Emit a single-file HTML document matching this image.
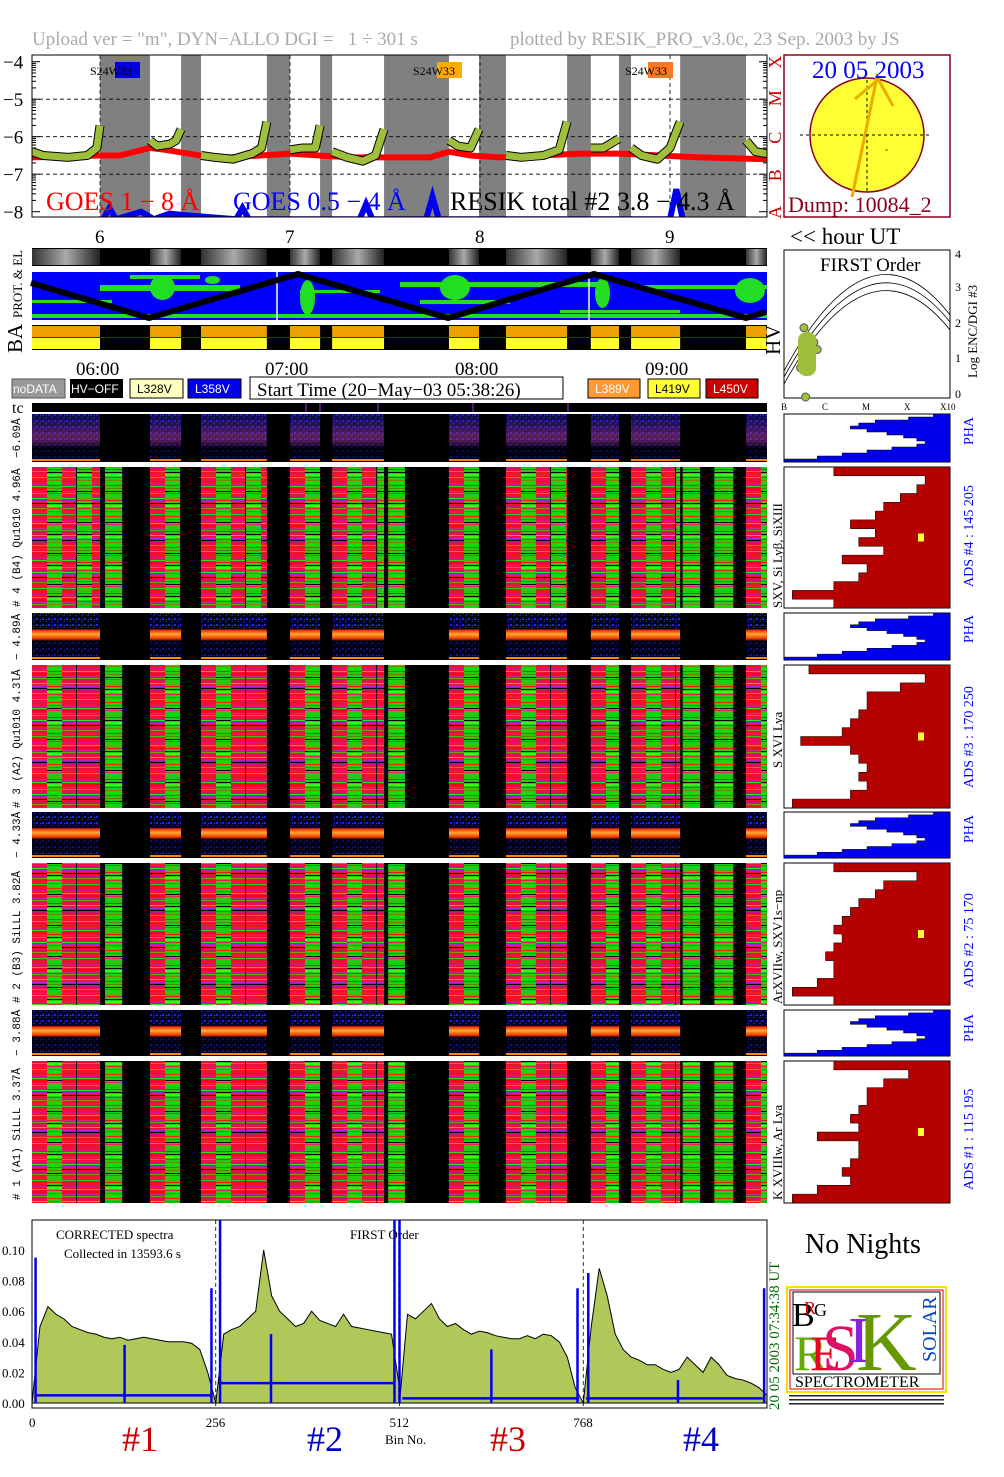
<!DOCTYPE html>
<html><head><meta charset="utf-8"><style>
html,body{margin:0;padding:0;background:#fff;}
svg{display:block;font-family:"Liberation Serif",serif;}
</style></head><body>
<svg id="s" width="1004" height="1477" viewBox="0 0 1004 1477" xmlns="http://www.w3.org/2000/svg">
<defs>
  <pattern id="pRed" patternUnits="userSpaceOnUse" width="15" height="37">
    <rect width="15" height="37" fill="#ee1133"/>
    <rect y="2" width="15" height="2" fill="#dd1188"/><rect y="5" width="15" height="1" fill="#33dd11"/>
    <rect y="7" width="15" height="2" fill="#ff0022"/><rect y="10" width="15" height="1" fill="#cc2299"/>
    <rect y="12" width="15" height="1" fill="#66aa00"/><rect y="14" width="15" height="2" fill="#dd1166"/>
    <rect y="17" width="15" height="1" fill="#22ee22"/><rect y="19" width="15" height="2" fill="#aa22cc"/>
    <rect y="22" width="15" height="1" fill="#000"/><rect y="24" width="15" height="2" fill="#cc1177"/>
    <rect y="27" width="15" height="1" fill="#889900"/><rect y="30" width="15" height="2" fill="#ff1144"/>
    <rect y="33" width="15" height="1" fill="#33cc11"/>
  </pattern>
  <pattern id="pGreen" patternUnits="userSpaceOnUse" width="15" height="31">
    <rect width="15" height="31" fill="#22cc11"/>
    <rect y="2" width="15" height="1" fill="#55aa00"/><rect y="4" width="15" height="1" fill="#ee1122"/>
    <rect y="7" width="15" height="1" fill="#000"/><rect y="9" width="15" height="2" fill="#33ff11"/>
    <rect y="12" width="15" height="1" fill="#dd2255"/><rect y="15" width="15" height="1" fill="#778800"/>
    <rect y="17" width="15" height="2" fill="#11dd00"/><rect y="20" width="15" height="1" fill="#ff2200"/>
    <rect y="23" width="15" height="1" fill="#558800"/><rect y="26" width="15" height="1" fill="#000"/>
    <rect y="28" width="15" height="1" fill="#ee2266"/>
  </pattern>
  <pattern id="pDots" patternUnits="userSpaceOnUse" width="6" height="6">
    <rect width="6" height="6" fill="#000022"/>
    <rect x="0" y="0" width="2" height="2" fill="#2222ee"/><rect x="3" y="3" width="2" height="1" fill="#1a1acc"/>
    <rect x="4" y="1" width="1" height="1" fill="#4444ff"/>
  </pattern>
  <linearGradient id="gBand4" x1="0" y1="0" x2="0" y2="1">
    <stop offset="0" stop-color="#2020aa" stop-opacity="0.3"/><stop offset="0.45" stop-color="#993377" stop-opacity="0.6"/>
    <stop offset="0.55" stop-color="#993377" stop-opacity="0.5"/><stop offset="0.7" stop-color="#000" stop-opacity="0.7"/>
    <stop offset="1" stop-color="#000" stop-opacity="0.5"/>
  </linearGradient>
  <linearGradient id="gBandHot" x1="0" y1="0" x2="0" y2="1">
    <stop offset="0" stop-color="#000" stop-opacity="0"/><stop offset="0.33" stop-color="#000" stop-opacity="0"/>
    <stop offset="0.36" stop-color="#ee2200"/><stop offset="0.45" stop-color="#ffaa33"/>
    <stop offset="0.55" stop-color="#ee3300"/><stop offset="0.6" stop-color="#000" stop-opacity="0.6"/>
    <stop offset="1" stop-color="#000" stop-opacity="0.3"/>
  </linearGradient>
</defs>

<!-- title -->
<text x="32" y="45" font-size="19" fill="#aaaaaa" xml:space="preserve">Upload ver = "m", DYN−ALLO DGI =   1 ÷ 301 s</text>
<text x="510" y="45" font-size="19" fill="#aaaaaa">plotted by RESIK_PRO_v3.0c, 23 Sep. 2003 by JS</text>

<g id="goes"></g>
<g id="sun">
  <rect x="784" y="55" width="166" height="162" fill="#fff" stroke="#8b0020" stroke-width="1.5"/>
  <circle cx="867" cy="135" r="57" fill="#ffff33" stroke="#8b0020" stroke-width="1.5"/>
  <line x1="800" y1="135" x2="932" y2="135" stroke="#000" stroke-dasharray="3,3"/>
  <line x1="867" y1="80" x2="867" y2="192" stroke="#000" stroke-dasharray="3,3"/>
  <polyline points="852,197 877,77 893,106" fill="none" stroke="#eeaa00" stroke-width="3"/>
  <line x1="855" y1="99" x2="880" y2="78" stroke="#eeaa00" stroke-width="3"/>
  <rect x="885" y="149" width="3" height="2" fill="#ee9900"/>
  <text x="812" y="78" font-size="25" fill="#0000ff">20 05 2003</text>
  <text x="788" y="212" font-size="22" fill="#8b0020">Dump: 10084_2</text>
</g>

<text x="790" y="244" font-size="23" fill="#000">&lt;&lt; hour UT</text>
<g id="hours"></g>
<g id="strip"></g>
<g id="map"></g>
<g id="ba"></g>
<text transform="translate(22,318) rotate(-90)" font-size="13">PROT. &amp; EL</text>
<text transform="translate(22,353) rotate(-90)" font-size="21">BA</text>
<text transform="translate(780,355) rotate(-90)" font-size="21">HV</text>

<!-- first order plot -->
<g id="first">
  <rect x="784" y="250" width="166" height="148" fill="#fff" stroke="#000"/>
  <text x="820" y="271" font-size="19">FIRST Order</text>
  <text x="955" y="258" font-size="12">4</text><text x="955" y="291" font-size="12">3</text>
  <text x="955" y="327" font-size="12">2</text><text x="955" y="362" font-size="12">1</text><text x="955" y="398" font-size="12">0</text>
  <text transform="translate(977,378) rotate(-90)" font-size="13">Log ENC/DGI #3</text>
  <text x="781" y="410" font-size="9">B</text><text x="822" y="410" font-size="9">C</text><text x="862" y="410" font-size="9">M</text>
  <text x="904" y="410" font-size="9">X</text><text x="940" y="410" font-size="9">X10</text>
</g>

<!-- time labels and legend -->
<g font-size="19">
  <text x="76" y="375">06:00</text><text x="265" y="375">07:00</text><text x="455" y="375">08:00</text><text x="645" y="375">09:00</text>
</g>
<g font-family="Liberation Sans, sans-serif" font-size="12">
  <rect x="12" y="379" width="53" height="19" fill="#999" stroke="#555"/><text x="13" y="393" fill="#fff">noDATA</text>
  <rect x="70" y="379" width="53" height="19" fill="#000"/><text x="71" y="393" fill="#fff">HV−OFF</text>
  <rect x="130" y="379" width="53" height="19" fill="#ffffc0" stroke="#000"/><text x="137" y="393" fill="#000">L328V</text>
  <rect x="188" y="379" width="53" height="19" fill="#0000ee" stroke="#000"/><text x="195" y="393" fill="#fff">L358V</text>
  <rect x="588" y="379" width="52" height="19" fill="#ff9933" stroke="#000"/><text x="595" y="393" fill="#fff">L389V</text>
  <rect x="648" y="379" width="52" height="19" fill="#ffff33" stroke="#000"/><text x="655" y="393" fill="#000">L419V</text>
  <rect x="706" y="379" width="52" height="19" fill="#cc0000" stroke="#000"/><text x="713" y="393" fill="#fff">L450V</text>
</g>
<rect x="250" y="377" width="313" height="22" fill="#fff" stroke="#000"/>
<text x="257" y="396" font-size="19">Start Time (20−May−03 05:38:26)</text>
<text x="12" y="413" font-size="16">tc</text>
<g id="tc"></g>

<g id="det"></g>
<g id="hist"></g>

<g font-size="11" font-family="Liberation Mono, monospace">
  <text transform="translate(20,458) rotate(-90)">−6.09Å</text>
  <text transform="translate(20,607) rotate(-90)"># 4 (B4) Qu1010 4.96Å</text>
  <text transform="translate(20,660) rotate(-90)">− 4.89Å</text>
  <text transform="translate(20,808) rotate(-90)"># 3 (A2) Qu1010  4.3lÅ</text>
  <text transform="translate(20,858) rotate(-90)">− 4.33Å</text>
  <text transform="translate(20,1003) rotate(-90)"># 2 (B3) SiLLL  3.82Å</text>
  <text transform="translate(20,1056) rotate(-90)">− 3.88Å</text>
  <text transform="translate(20,1200) rotate(-90)"># 1 (A1) SiLLL  3.37Å</text>
</g>
<g font-size="13">
  <text transform="translate(782,608) rotate(-90)">SXV, Si Lyβ, SiXIII</text>
  <text transform="translate(782,768) rotate(-90)">S XVI Lya</text>
  <text transform="translate(782,1004) rotate(-90)">ArXVIIw, SXV1s−np</text>
  <text transform="translate(782,1200) rotate(-90)">K XVIIIw, Ar Lya</text>
</g>
<g font-size="14" fill="#0000ff">
  <text transform="translate(973,445) rotate(-90)">PHA</text>
  <text transform="translate(973,587) rotate(-90)">ADS #4 :  145 205</text>
  <text transform="translate(973,643) rotate(-90)">PHA</text>
  <text transform="translate(973,788) rotate(-90)">ADS #3 :  170 250</text>
  <text transform="translate(973,843) rotate(-90)">PHA</text>
  <text transform="translate(973,988) rotate(-90)">ADS #2 :  75 170</text>
  <text transform="translate(973,1042) rotate(-90)">PHA</text>
  <text transform="translate(973,1190) rotate(-90)">ADS #1 :  115 195</text>
</g>

<g id="spec"></g>
<text transform="translate(779,1410) rotate(-90)" font-size="15" fill="#006600">20 05 2003      07:34:38 UT</text>
<text x="805" y="1253" font-size="28">No Nights</text>

<g id="logo">
  <rect x="787" y="1287" width="159" height="105" fill="#fff" stroke="#ffdd00" stroke-width="2"/>
  <rect x="790" y="1290" width="153" height="99" fill="#fff" stroke="#cc0000" stroke-width="1"/>
  <rect x="793" y="1292" width="147" height="82" fill="#fff" stroke="#000" stroke-width="1"/>
  <text x="792" y="1326" font-size="34" fill="#000">B</text>
  <text x="804" y="1314" font-size="18" fill="#cc0000">R</text><text x="814" y="1316" font-size="18" fill="#000">G</text>
  <text x="794" y="1370" font-size="50" fill="#66aa00">R</text>
  <text x="810" y="1370" font-size="50" fill="#ee0022">E</text>
  <text x="822" y="1370" font-size="66" fill="#dd1166">S</text>
  <text x="848" y="1362" font-size="66" fill="#8822dd">I</text>
  <text x="856" y="1370" font-size="84" fill="#669900">K</text>
  <text transform="translate(936,1362) rotate(-90)" font-size="20" fill="#0044cc">SOLAR</text>
  <text x="795" y="1387" font-size="16" fill="#000">SPECTROMETER</text>
  <rect x="789" y="1395" width="155" height="1.5" fill="#222"/><rect x="789" y="1399" width="155" height="1.5" fill="#222"/><rect x="789" y="1403" width="155" height="1.5" fill="#222"/>
</g>

<g font-size="36">
  <text x="122" y="1451" fill="#cc0000">#1</text>
  <text x="307" y="1451" fill="#0000cc">#2</text>
  <text x="490" y="1451" fill="#cc0000">#3</text>
  <text x="683" y="1451" fill="#0000cc">#4</text>
</g>
<text x="385" y="1444" font-size="13">Bin No.</text>
</svg>
<script>
// ===== data =====
const dataStart = [-21.5, 15.8, 31.9, 60, 73.3, 110.2, 128.2, 155, 167.7, 204];
const dataEnd   = [0, 25.6, 52.7, 69.5, 89.7, 119.7, 147.5, 163.9, 183.2, 210.6];
const partStart = [1.6, 91.0, 184.0, 194.0];
const partEnd   = [7.0, 96.3, 189.5, 200.0];
const goesT = [-21.5,0,6.3,15.8,20.5,31.6,41,50.5,60,69.5,79,88.4,104.2,110.2,116.8,126.3,138.9,151.6,164.2,176.8,189.5,210.6];
const goesV = [-6.55,-6.5,-6.5,-6.3,-6.35,-6.5,-6.55,-6.5,-6.45,-6.5,-6.55,-6.55,-6.55,-6.4,-6.5,-6.55,-6.5,-6.45,-6.45,-6.5,-6.55,-6.6];
const resikT = [
  [-21.5,-18,-10,-4,-1,0],[15.8,18,22,24,25.6],[31.9,36,42,48,51,52.7],[60,64,68,69.5],
  [73.3,78,83,87,89.7],[110.2,113,117,119.7],[128.2,133,140,145,147.5],[155,159,163.9],
  [167.7,171,176,180,183.2],[204,207,210.6]];
const resikV = [
  [-6.4,-6.5,-6.55,-6.5,-6.3,-5.7],[-6.1,-6.25,-6.2,-6.1,-5.8],[-6.5,-6.55,-6.6,-6.45,-6.3,-5.6],[-6.35,-6.3,-6.3,-5.7],
  [-6.4,-6.55,-6.65,-6.5,-5.8],[-6.1,-6.25,-6.3,-5.8],[-6.5,-6.55,-6.5,-6.35,-5.6],[-6.3,-6.3,-6.05],
  [-6.3,-6.5,-6.6,-6.3,-5.6],[-6.1,-6.4,-6.45]];
const goes2T = [1,3,5,9,13,17,22,28,43,45,47,82,84,86,103,105,107,180,182,184];
const goes2V = [-8.2,-7.9,-8.2,-8.1,-8.0,-8.2,-8.05,-8.1,-8.2,-7.9,-8.2,-8.2,-7.8,-8.2,-8.2,-7.6,-8.2,-8.2,-7.4,-8.2];
const hourLabels = ['6','7','8','9'];
const hourVals = [0,60,120,180];
const spec1 = [0.00,0.05,0.063,0.058,0.055,0.05,0.048,0.046,0.045,0.043,0.042,0.043,0.041,0.042,0.043,0.042,0.041,0.04,0.04,0.04,0.039,0.035,0.02,0.0];
const spec2 = [0.0,0.045,0.048,0.05,0.055,0.06,0.1,0.07,0.06,0.055,0.05,0.052,0.06,0.054,0.052,0.05,0.058,0.05,0.049,0.048,0.047,0.046,0.045,0.01];
const spec3 = [0.0,0.058,0.055,0.06,0.065,0.055,0.05,0.052,0.048,0.045,0.047,0.046,0.044,0.043,0.042,0.042,0.044,0.042,0.045,0.044,0.04,0.03,0.01,0.0];
const spec4 = [0.0,0.05,0.088,0.07,0.045,0.035,0.03,0.028,0.025,0.025,0.022,0.02,0.022,0.03,0.025,0.02,0.03,0.025,0.018,0.016,0.015,0.013,0.01,0.005];
const bgLevel = [0.005,0.013,0.003,0.003];
const spikeBin = [5,129,250,262,333,505,512,640,760,775,900,1020];
const spikeVal = [0.095,0.038,0.075,0.12,0.045,0.12,0.12,0.035,0.075,0.085,0.015,0.075];
const yTicks = ['0.00','0.02','0.04','0.06','0.08','0.10'];
const yTickVals = [0,0.02,0.04,0.06,0.08,0.10];
const binTicks = [0,256,512,768];
const phaHist = [0.9,0.75,0.55,0.45,0.4,0.5,0.62,0.72,0.8,0.85,0.8,0.65,0.5,0.35,0.2,0.0];
const adsHist4 = [0.3,0.85,0.8,0.7,0.6,0.55,0.4,0.55,0.45,0.6,0.35,0.5,0.45,0.3,0.05,0.3];
const adsHist3 = [0.15,0.85,0.7,0.5,0.5,0.45,0.4,0.35,0.1,0.4,0.45,0.5,0.45,0.5,0.4,0.05];
const adsHist2 = [0.3,0.8,0.6,0.55,0.45,0.4,0.35,0.3,0.35,0.3,0.25,0.3,0.3,0.2,0.05,0.3];
const adsHist1 = [0.3,0.75,0.6,0.5,0.5,0.45,0.4,0.45,0.2,0.45,0.45,0.4,0.35,0.4,0.2,0.05];
const firstX = [0.12,0.16,0.2,0.14,0.1,0.18,0.13];
const firstY = [1.9,1.6,1.3,1.0,0.8,1.5,0.0];

// ===== helpers =====
const NS='http://www.w3.org/2000/svg';
function mk(tag, attrs, parent){const e=document.createElementNS(NS,tag);for(const k in attrs)e.setAttribute(k,attrs[k]);parent.appendChild(e);return e;}
const X0=32, X1=767;
const xT = t => 100 + t*190/60;
const yG = v => 61.7 + (-4 - v)*37.5;

// ===== GOES panel =====
const g=document.getElementById('goes');
let r=mk('rect',{x:X0,y:55,width:X1-X0,height:162,fill:'#808080'},g);


for(let i=0;i<dataStart.length;i++){
  const e=mk('rect',{x:Math.max(X0,xT(dataStart[i])),y:55,width:Math.min(X1,xT(dataEnd[i]))-Math.max(X0,xT(dataStart[i])),height:162,fill:'#fff'},g);
  
  
}
[-5,-6,-7].forEach(v=>mk('line',{x1:X0,x2:X1,y1:yG(v),y2:yG(v),stroke:'#000','stroke-dasharray':'4,3','stroke-width':0.8},g));
hourVals.forEach(v=>mk('line',{x1:xT(v),x2:xT(v),y1:55,y2:217,stroke:'#000','stroke-dasharray':'4,3','stroke-width':0.8},g));
for(let v=-4;v>=-8;v--){
  const t=mk('text',{x:3,y:yG(v)+7,'font-size':19},g); t.textContent='−'+(-v);
  
  
  for(let k=1;k<10;k++){const yy=yG(v)-Math.log10(k)*37.5; if(yy>55) {mk('line',{x1:X0,x2:X0+(k==1?8:4),y1:yy,y2:yy,stroke:'#000'},g);mk('line',{x1:X1,x2:X1-(k==1?8:4),y1:yy,y2:yy,stroke:'#000'},g);}}
}
let pts=goesT.map((t,i)=>xT(t)+','+yG(goesV[i])).join(' ');
let l=mk('polyline',{points:pts,fill:'none',stroke:'#ff0000','stroke-width':6,'stroke-linejoin':'round'},g);


const cp=mk('clipPath',{id:'gclip'},g); mk('rect',{x:X0,y:55,width:X1-X0,height:162},cp);
let pts2=goes2T.map((t,i)=>xT(t)+','+yG(goes2V[i])).join(' ');
l=mk('polyline',{points:pts2,fill:'none',stroke:'#0000ee','stroke-width':6,'clip-path':'url(#gclip)'},g);


resikT.forEach((ts,j)=>{
  const p=ts.map((t,i)=>xT(t)+','+yG(resikV[j][i])).join(' ');
  mk('polyline',{points:p,fill:'none',stroke:'#000','stroke-width':9,'stroke-linejoin':'round','clip-path':'url(#gclip)'},g);
  const e=mk('polyline',{points:p,fill:'none',stroke:'#9fbf3a','stroke-width':7,'stroke-linejoin':'round','clip-path':'url(#gclip)'},g);
  
  
});
mk('rect',{x:X0,y:55,width:X1-X0,height:162,fill:'none',stroke:'#000'},g);
[['S24W33',90,'#0000dd',115],['S24W33',413,'#ffaa00',437],['S24W33',625,'#ff7722',648]].forEach(a=>{
  mk('rect',{x:a[3],y:62,width:25,height:16,fill:a[2]},g);
  const t=mk('text',{x:a[1],y:75,'font-size':12},g); t.textContent=a[0];
  
  
});
[['GOES 1 − 8 Å',46,'#ff0000'],['GOES 0.5 − 4 Å',233,'#0000ff'],['RESIK total #2  3.8 − 4.3 Å',450,'#000']].forEach(a=>{
  const t=mk('text',{x:a[1],y:210,'font-size':26,fill:a[2]},g); t.textContent=a[0];
  
  
});
['A','B','C','M','X'].forEach((c,i)=>{
  const yy=yG(-8+i);
  const t=mk('text',{transform:'translate(781,'+(yy+7)+') rotate(-90)',fill:'#cc0000','font-size':18},g);
  t.textContent=c;
  
  
});

const hg=document.getElementById('hours');
hourLabels.forEach((h,i)=>{const t=mk('text',{x:xT(hourVals[i])-5,y:243,'font-size':19},hg);t.textContent=h;
  
  });

const sg=document.getElementById('strip');
mk('rect',{x:X0,y:248,width:X1-X0,height:18,fill:'#000'},sg);
const sgr=mk('linearGradient',{id:'stripG',x1:0,x2:1,y1:0,y2:0},sg);
mk('stop',{offset:0,'stop-color':'#333'},sgr);mk('stop',{offset:0.5,'stop-color':'#aaa'},sgr);mk('stop',{offset:1,'stop-color':'#222'},sgr);
for(let i=0;i<dataStart.length;i++){
  const x=Math.max(X0,xT(dataStart[i])),w=Math.min(X1,xT(dataEnd[i]))-x;
  const e=mk('rect',{x:x,y:249,width:w,height:16,fill:'url(#stripG)'},sg);
  
  
}
const mg=document.getElementById('map');
mk('rect',{x:X0,y:272,width:X1-X0,height:48,fill:'#0000ff'},mg);
[[32,300,80,3],[100,285,140,6],[130,275,70,4],[400,282,200,5],[420,300,90,4],[640,285,127,4],[32,314,735,4],[300,290,80,3],[560,310,120,3]].forEach(a=>mk('rect',{x:a[0],y:a[1],width:a[2],height:a[3],fill:'#22dd22'},mg));
[[150,275,25,25],[300,280,15,35],[440,275,30,25],[595,278,15,30],[735,278,30,25],[205,276,15,8]].forEach(a=>mk('ellipse',{cx:a[0]+a[2]/2,cy:a[1]+a[3]/2,rx:a[2]/2,ry:a[3]/2,fill:'#22dd22'},mg));
mk('line',{x1:277,x2:277,y1:272,y2:320,stroke:'#fff','stroke-width':1.5},mg);
mk('line',{x1:589,x2:589,y1:272,y2:320,stroke:'#fff','stroke-width':1.5},mg);
l=mk('polyline',{points:'31,283 149,318 298,274 448,318 594,274 746,318 766,312',fill:'none',stroke:'#000','stroke-width':6},mg);


const bg=document.getElementById('ba');
mk('rect',{x:X0,y:325,width:X1-X0,height:25,fill:'#000'},bg);
for(let i=0;i<dataStart.length;i++){
  const x=Math.max(X0,xT(dataStart[i])),w=Math.min(X1,xT(dataEnd[i]))-x;
  mk('rect',{x:x,y:326,width:w,height:11,fill:'#eea000'},bg);
  const e=mk('rect',{x:x,y:338,width:w,height:11,fill:'#ffff33'},bg);
  
  
}
mk('line',{x1:X0,x2:X1,y1:337.5,y2:337.5,stroke:'#2222aa'},bg);

const fg=document.getElementById('first');
const fx=v=>784+v*166, fy=v=>397-v*36.5;
['M784,384 Q 870,230 950,330','M784,377 Q 870,222 950,322','M784,371 Q 870,212 950,315'].forEach(d=>mk('path',{d:d,fill:'none',stroke:'#000','stroke-width':0.8},fg));
firstX.forEach((v,i)=>{const c=mk('circle',{cx:fx(v),cy:fy(firstY[i]),r:4,fill:'#9fbf3a',stroke:'#556'},fg);
  
  });
mk('rect',{x:798,y:332,width:18,height:44,rx:8,fill:'#9fbf3a'},fg);

const tg=document.getElementById('tc');
mk('rect',{x:X0,y:403,width:X1-X0,height:9,fill:'#000'},tg);
[320,306,378,473,568].forEach(x=>mk('line',{x1:x,x2:x,y1:403,y2:412,stroke:'#9933cc'},tg));

const dg=document.getElementById('det');
const phaY=[[414,462],[613,660],[812,858],[1010,1056]];
const spY=[[467,608],[665,808],[863,1005],[1061,1203]];
const phaFill=['url(#gBand4)','url(#gBandHot)','url(#gBandHot)','url(#gBandHot)'];
for(let d=0;d<4;d++){
  const [a,b]=phaY[d],[c,e]=spY[d];
  mk('rect',{x:X0,y:a,width:X1-X0,height:b-a,fill:'#000'},dg);
  mk('rect',{x:X0,y:c,width:X1-X0,height:e-c,fill:'#000'},dg);
  for(let i=0;i<dataStart.length;i++){
    const x=Math.max(X0,xT(dataStart[i])),w=Math.min(X1,xT(dataEnd[i]))-x;
    let p=mk('rect',{x:x,y:a,width:w,height:b-a,fill:'url(#pDots)'},dg);
    
    
    mk('rect',{x:x,y:a,width:w,height:b-a,fill:phaFill[d]},dg);
    mk('rect',{x:x,y:b-3,width:w,height:2,fill:'#ff8800'},dg);
    for(let cx=x,k=0;cx<x+w;cx+=15,k++){
      const cw=Math.min(15,x+w-cx);
      const useG=(d==0)?(k%2==1):(k%4==1);
      const s=mk('rect',{x:cx,y:c,width:Math.max(0,cw-(k%3==2?1:0)),height:e-c,fill:useG?'url(#pGreen)':'url(#pRed)'},dg);
      
      
    }
  }
  for(let i=0;i<partStart.length;i++){
    const x=xT(partStart[i]),w=xT(partEnd[i])-x;
    const s=mk('rect',{x:x,y:c,width:w,height:e-c,fill:'url(#pGreen)'},dg);
    
    
  }
}

const hgp=document.getElementById('hist');
const HX0=784,HX1=950;
function hist(arr,y0,y1,color,name){
  mk('rect',{x:HX0,y:y0,width:HX1-HX0,height:y1-y0,fill:'#fff',stroke:'#000'},hgp);
  const n=arr.length,h=(y1-y0)/n;
  let d='M'+HX1+','+y0;
  arr.forEach((v,i)=>{const x=HX0+v*(HX1-HX0);d+=' L'+x+','+(y0+i*h)+' L'+x+','+(y0+(i+1)*h);});
  d+=' L'+HX1+','+y1+' Z';
  const p=mk('path',{d:d,fill:color,stroke:'#000','stroke-width':0.5},hgp);
  
  
}
const adsArr=[adsHist4,adsHist3,adsHist2,adsHist1];
for(let d=0;d<4;d++){
  hist(phaHist,phaY[d][0],phaY[d][1],'#0000ee','pha-histogram');
  hist(adsArr[d],spY[d][0],spY[d][1],'#b50000','ads-histogram');
  const cy=spY[d][0]+(spY[d][1]-spY[d][0])*0.5;
  mk('rect',{x:918,y:cy-4,width:6,height:8,fill:'#ffff33'},hgp);
}

const sp=document.getElementById('spec');
const SY0=1403, SYS=1530;
const bx=b=>32+b*(735/1024), sy=v=>SY0-v*SYS;
mk('rect',{x:32,y:1220,width:735,height:188,fill:'#fff',stroke:'#000'},sp);
const specs=[spec1,spec2,spec3,spec4];
specs.forEach((arr,k)=>{
  const n=arr.length;let d='M'+bx(k*256)+','+sy(0);
  arr.forEach((v,i)=>{d+=' L'+bx(k*256+i*256/(n-1))+','+sy(v);});
  d+=' L'+bx(k*256+256)+','+sy(0)+' Z';
  const p=mk('path',{d:d,fill:'#b0c85a',stroke:'#000','stroke-width':1},sp);
  
  
  const b=mk('line',{x1:bx(k*256+4),x2:bx(k*256+250),y1:sy(bgLevel[k]),y2:sy(bgLevel[k]),stroke:'#0000ee','stroke-width':2.5},sp);
  
  
});
spikeBin.forEach((b,i)=>{const e=mk('line',{x1:bx(b),x2:bx(b),y1:sy(0),y2:Math.max(1220,sy(spikeVal[i])),stroke:'#0000ee','stroke-width':2.5},sp);
  
  });
[256,512,768].forEach(b=>mk('line',{x1:bx(b),x2:bx(b),y1:1220,y2:1408,stroke:'#000','stroke-dasharray':'4,3','stroke-width':0.8},sp));
yTicks.forEach((t,i)=>{const e=mk('text',{x:2,y:sy(yTickVals[i])+5,'font-size':13},sp);e.textContent=t;
  
  });
binTicks.forEach(b=>{const e=mk('text',{x:bx(b)-(b?10:3),y:1427,'font-size':13},sp);e.textContent=b;
  
  });
let t=mk('text',{x:56,y:1239,'font-size':13},sp);t.textContent='CORRECTED spectra';
t=mk('text',{x:64,y:1258,'font-size':13},sp);t.textContent='Collected in 13593.6 s';
t=mk('text',{x:350,y:1239,'font-size':13},sp);t.textContent='FIRST Order';
</script>
</body></html>
